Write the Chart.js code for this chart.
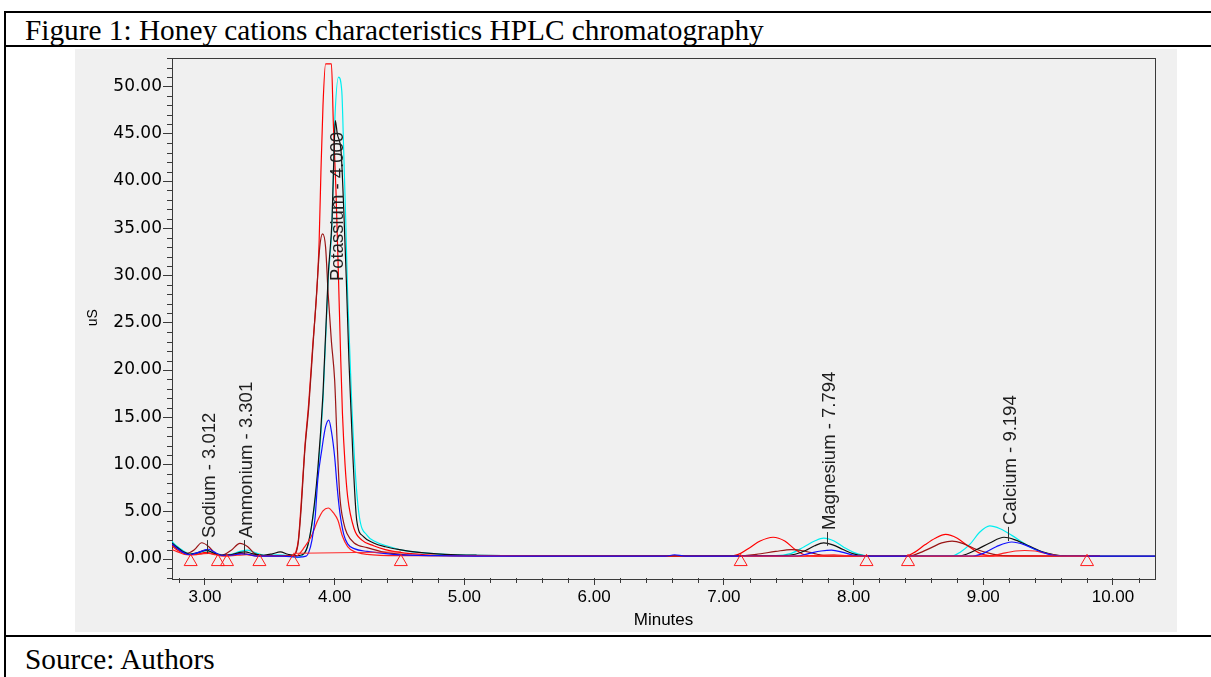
<!DOCTYPE html>
<html>
<head>
<meta charset="utf-8">
<title>Honey cations characteristics HPLC chromatography</title>
<script src="https://cdn.jsdelivr.net/npm/chart.js@4.4.0/dist/chart.umd.min.js"></script>
<style>
  html, body { margin: 0; padding: 0; background: #fff; }
  body { width: 1211px; height: 677px; position: relative; overflow: hidden; }
  .rule { position: absolute; background: #000; }
  .caption {
    position: absolute; left: 25px; white-space: nowrap; color: #000;
    font-family: 'Liberation Serif', 'Times New Roman', serif; font-size: 29.3px; line-height: 29px;
  }
  #panel { position: absolute; left: 75px; top: 49px; width: 1102px; height: 583px; background: #f0f0f0; }
</style>
</head>
<body>
<div class="rule" style="left:4px;top:11px;width:1207px;height:2px"></div>
<div class="rule" style="left:4px;top:11px;width:2px;height:666px"></div>
<div class="rule" style="left:4px;top:45px;width:1207px;height:2px"></div>
<div class="rule" style="left:4px;top:635px;width:1207px;height:2px"></div>
<div class="caption" style="top:16px">Figure 1: Honey cations characteristics HPLC chromatography</div>
<div class="caption" style="top:645px">Source: Authors</div>
<div id="panel"><canvas id="chrom" width="1102" height="583"></canvas></div>

<script>
// axis ticks
const xTickValues = [3, 4, 5, 6, 7, 8, 9, 10];
const yTickValues = [0, 5, 10, 15, 20, 25, 30, 35, 40, 45, 50];

// traces (minutes / uS)
const cyanTimes = [2.746, 2.78, 2.83, 2.88, 2.94, 3.01, 3.07, 3.13, 3.20, 3.27, 3.33, 3.39, 3.46, 3.56, 3.65, 3.71, 3.75, 3.79, 3.83, 3.87, 3.91, 3.95, 3.98, 4.00, 4.03, 4.055, 4.07, 4.085, 4.10, 4.13, 4.16, 4.19, 4.25, 4.32, 4.40, 4.50, 4.65, 4.85, 5.10, 5.50, 7.40, 7.52, 7.62, 7.70, 7.77, 7.85, 7.93, 8.00, 8.08, 8.20, 8.75, 8.82, 8.90, 8.97, 9.05, 9.13, 9.22, 9.32, 9.42, 9.52, 9.62, 9.75];
const cyanValues = [1.85, 1.4, 0.9, 0.55, 0.6, 0.85, 0.65, 0.45, 0.5, 0.8, 0.95, 0.65, 0.4, 0.45, 0.35, 0.15, 0.35, 1.3, 4.1, 9.0, 16.8, 29.5, 35.6, 46.0, 51.0, 49.5, 43.0, 36.0, 28.0, 17.0, 9.0, 4.5, 2.5, 1.8, 1.4, 1.0, 0.7, 0.5, 0.4, 0.35, 0.35, 0.6, 1.3, 1.9, 2.2, 1.9, 1.2, 0.7, 0.4, 0.3, 0.3, 0.7, 1.6, 2.8, 3.5, 3.2, 2.5, 1.6, 0.9, 0.5, 0.3, 0.3];

const blackTimes = [2.746, 2.78, 2.83, 2.88, 2.94, 3.01, 3.07, 3.13, 3.20, 3.27, 3.31, 3.37, 3.45, 3.52, 3.58, 3.64, 3.70, 3.75, 3.79, 3.83, 3.87, 3.91, 3.95, 3.98, 3.995, 4.005, 4.02, 4.05, 4.07, 4.09, 4.11, 4.14, 4.17, 4.22, 4.30, 4.39, 4.50, 4.65, 4.85, 5.10, 5.50, 7.45, 7.55, 7.63, 7.70, 7.77, 7.84, 7.92, 8.00, 8.08, 8.20, 8.80, 8.87, 8.95, 9.05, 9.16, 9.25, 9.35, 9.45, 9.55, 9.65, 10.324];
const blackValues = [1.7, 1.3, 0.8, 0.5, 0.65, 0.95, 0.6, 0.4, 0.45, 0.7, 0.75, 0.55, 0.4, 0.55, 0.75, 0.5, 0.35, 0.45, 1.3, 4.3, 9.5, 17.5, 30.0, 36.0, 43.0, 46.4, 45.0, 43.0, 37.0, 29.5, 21.0, 11.0, 4.1, 2.4, 1.7, 1.3, 1.0, 0.7, 0.5, 0.4, 0.35, 0.35, 0.5, 0.9, 1.4, 1.7, 1.5, 1.0, 0.55, 0.35, 0.3, 0.3, 0.5, 1.0, 1.7, 2.3, 2.0, 1.4, 0.8, 0.45, 0.3, 0.3];

const redTimes = [2.746, 2.78, 2.83, 2.88, 2.94, 3.01, 3.07, 3.13, 3.20, 3.28, 3.35, 3.45, 3.60, 3.68, 3.70, 3.72, 3.74, 3.77, 3.80, 3.83, 3.863, 3.88, 3.894, 3.91, 3.93, 3.975, 3.99, 4.01, 4.03, 4.045, 4.06, 4.08, 4.10, 4.15, 4.21, 4.30, 4.39, 4.50, 4.70, 5.00, 5.50, 7.05, 7.13, 7.20, 7.28, 7.38, 7.47, 7.55, 7.62, 7.70, 8.40, 8.47, 8.55, 8.63, 8.71, 8.80, 8.88, 8.96, 9.05, 9.90];
const redValues = [1.4, 1.0, 0.65, 0.45, 0.5, 0.7, 0.5, 0.4, 0.45, 0.6, 0.45, 0.35, 0.35, 0.4, 0.7, 2.0, 5.5, 11.8, 16.5, 22.4, 28.5, 33.5, 40.9, 48.0, 52.4, 52.4, 46.0, 39.0, 29.5, 22.0, 15.4, 10.0, 6.6, 3.2, 2.0, 1.4, 1.0, 0.7, 0.45, 0.35, 0.3, 0.3, 0.6, 1.2, 1.9, 2.3, 1.9, 1.0, 0.45, 0.3, 0.3, 0.7, 1.5, 2.2, 2.6, 2.2, 1.4, 0.7, 0.35, 0.3];

const darkRedTimes = [2.746, 2.80, 2.86, 2.92, 2.975, 3.03, 3.08, 3.13, 3.20, 3.27, 3.33, 3.38, 3.45, 3.60, 3.68, 3.70, 3.72, 3.74, 3.77, 3.80, 3.83, 3.86, 3.885, 3.907, 3.93, 3.95, 3.975, 4.00, 4.02, 4.04, 4.07, 4.095, 4.15, 4.25, 4.39, 4.55, 4.80, 7.10, 7.25, 7.40, 7.52, 7.62, 7.72, 7.82, 8.42, 8.50, 8.60, 8.68, 8.76, 8.85, 8.95, 9.05, 9.15, 9.30, 9.90];
const darkRedValues = [1.5, 1.0, 0.6, 1.0, 1.72, 1.3, 0.6, 0.4, 0.9, 1.66, 1.3, 0.6, 0.35, 0.35, 0.4, 0.6, 1.8, 5.0, 11.5, 16.0, 22.0, 28.0, 33.0, 34.4, 33.0, 28.0, 23.0, 18.9, 12.0, 6.6, 3.8, 2.7, 1.7, 1.2, 0.7, 0.45, 0.35, 0.3, 0.5, 0.8, 1.0, 0.85, 0.5, 0.3, 0.3, 0.6, 1.2, 1.7, 1.9, 1.6, 1.0, 0.6, 0.35, 0.3, 0.3];

const blueTimes = [2.746, 2.78, 2.83, 2.88, 2.95, 3.01, 3.03, 3.07, 3.13, 3.20, 3.28, 3.33, 3.40, 3.60, 3.72, 3.78, 3.80, 3.825, 3.85, 3.87, 3.90, 3.93, 3.955, 3.975, 4.00, 4.02, 4.04, 4.07, 4.10, 4.15, 4.25, 4.45, 4.80, 5.20, 6.55, 6.62, 6.70, 7.56, 7.66, 7.75, 7.83, 7.92, 8.00, 8.08, 8.92, 9.00, 9.10, 9.22, 9.32, 9.42, 9.52, 9.61, 10.324];
const blueValues = [1.6, 1.2, 0.7, 0.45, 0.7, 1.0, 1.03, 0.75, 0.4, 0.4, 0.55, 0.5, 0.3, 0.3, 0.2, 0.3, 0.7, 2.0, 4.5, 8.4, 11.5, 14.0, 14.7, 13.5, 10.8, 7.5, 4.9, 2.6, 1.6, 1.1, 0.8, 0.5, 0.35, 0.3, 0.3, 0.45, 0.3, 0.3, 0.6, 0.85, 0.95, 0.7, 0.4, 0.3, 0.3, 0.6, 1.3, 1.8, 1.5, 0.9, 0.45, 0.3, 0.3];

const smallRedTimes = [2.746, 2.80, 2.86, 2.92, 2.98, 3.03, 3.08, 3.14, 3.25, 3.32, 3.40, 3.70, 3.77, 3.82, 3.87, 3.91, 3.95, 3.99, 4.025, 4.06, 4.10, 4.15, 4.25, 4.50, 7.60, 7.75, 7.85, 7.95, 8.10, 9.05, 9.15, 9.25, 9.32, 9.40, 9.48, 9.56, 9.65, 9.90];
const smallRedValues = [1.0, 0.7, 0.45, 0.45, 0.55, 0.6, 0.45, 0.3, 0.4, 0.45, 0.3, 0.3, 1.3, 2.4, 4.1, 5.1, 5.4, 4.9, 4.1, 2.4, 1.3, 0.8, 0.5, 0.35, 0.3, 0.4, 0.45, 0.35, 0.3, 0.3, 0.6, 0.85, 0.9, 0.85, 0.6, 0.4, 0.3, 0.3];

// integration baselines and peak start/end markers
const baseTimes = [3.68, 4.51, 4.60, 7.13, 8.10, 8.20, 8.42, 9.80];
const baseValues = [0.6, 0.75, null, 0.3, 0.3, null, 0.3, 0.3];
const markerTimes = [2.89, 3.10, 3.17, 3.42, 3.68, 4.51, 7.13, 8.10, 8.42, 9.80];
const markerValues = [-0.3, -0.3, -0.3, -0.3, -0.3, -0.3, -0.3, -0.3, -0.3, -0.3];

// peak annotations
const peakNames = ['Sodium - 3.012', 'Ammonium - 3.301', 'Potassium - 4.000', 'Magnesium - 7.794', 'Calcium - 9.194'];
const peakTimes = [3.012, 3.301, 4.000, 7.794, 9.194];
const peakLabelBase = [2.0, 2.0, 29.2, 2.85, 3.4];
const peakTickEnd = [0.6, 0.5, 29.2, 1.4, 1.9];

function trace(times, values, color) {
    return {
        data: times.map((t, i) => ({ x: t, y: values[i] })),
        borderColor: color,
        borderWidth: 1.2,
        pointRadius: 0,
        fill: false,
        cubicInterpolationMode: 'monotone'
    };
}

const chromDecor = {
    id: 'chromDecor',
    beforeDatasetsDraw(chart) {
        const { ctx, chartArea: a, scales: { x, y } } = chart;
        ctx.save();
        ctx.strokeStyle = '#3a3a3a';
        ctx.lineWidth = 1;
        ctx.strokeRect(Math.round(a.left) + 0.5, Math.round(a.top) + 0.5,
            Math.round(a.right - a.left), Math.round(a.bottom - a.top));
        // minor ticks
        ctx.beginPath();
        for (let v = Math.ceil(y.min); v <= y.max; v++) {
            if (v % 5 === 0) continue;
            const py = Math.round(y.getPixelForValue(v)) + 0.5;
            ctx.moveTo(a.left - 5, py);
            ctx.lineTo(a.left, py);
        }
        for (let i = Math.ceil(x.min * 5); i <= Math.floor(x.max * 5); i++) {
            if (i % 5 === 0) continue;
            const px = Math.round(x.getPixelForValue(i / 5)) + 0.5;
            ctx.moveTo(px, a.bottom);
            ctx.lineTo(px, a.bottom + 5);
        }
        ctx.stroke();
        ctx.restore();
    },
    afterDatasetsDraw(chart) {
        const { ctx, scales: { x, y } } = chart;
        ctx.save();
        ctx.fillStyle = '#1e1e1e';
        ctx.strokeStyle = '#333';
        ctx.lineWidth = 1;
        ctx.font = '18.5px "Liberation Sans", Arial, sans-serif';
        peakNames.forEach((name, i) => {
            const px = Math.round(x.getPixelForValue(peakTimes[i])) + 0.5;
            const top = y.getPixelForValue(peakLabelBase[i]);
            const bottom = y.getPixelForValue(peakTickEnd[i]);
            ctx.beginPath();
            ctx.moveTo(px, top);
            ctx.lineTo(px, bottom);
            ctx.stroke();
            ctx.save();
            ctx.translate(px + 2, top - 2);
            ctx.rotate(-Math.PI / 2);
            ctx.textAlign = 'left';
            ctx.textBaseline = 'middle';
            ctx.fillText(name, 0, 0);
            ctx.restore();
        });
        ctx.restore();
    }
};

new Chart(document.getElementById('chrom'), {
    type: 'line',
    data: {
        datasets: [
            {
                data: markerTimes.map((t, i) => ({ x: t, y: markerValues[i] })),
                showLine: false,
                pointStyle: 'triangle',
                pointRadius: 7.5,
                pointBorderWidth: 1,
                pointBorderColor: '#ff1a1a',
                pointBackgroundColor: 'rgba(0,0,0,0)',
                clip: false
            },
            {
                data: baseTimes.map((t, i) => ({ x: t, y: baseValues[i] })),
                borderColor: '#ff2a2a',
                borderWidth: 1,
                pointRadius: 0,
                spanGaps: false
            },
            trace(blueTimes, blueValues, '#1010ff'),
            trace(smallRedTimes, smallRedValues, '#ff2020'),
            trace(blackTimes, blackValues, '#101010'),
            trace(darkRedTimes, darkRedValues, '#9a1515'),
            trace(redTimes, redValues, '#ff0000'),
            trace(cyanTimes, cyanValues, '#00eef0')
        ]
    },
    options: {
        responsive: false,
        animation: false,
        events: [],
        layout: { padding: { top: 8, right: 22, bottom: 0, left: 0 } },
        plugins: { legend: { display: false }, tooltip: { enabled: false } },
        scales: {
            x: {
                type: 'linear',
                min: 2.746,
                max: 10.324,
                afterBuildTicks: s => { s.ticks = xTickValues.map(v => ({ value: v })); },
                afterFit: s => { s.height = 54; s.paddingLeft = 0; s.paddingRight = 0; },
                ticks: {
                    callback: v => Number(v).toFixed(2),
                    font: { family: 'Liberation Sans', size: 17 },
                    color: '#000',
                    padding: 2,
                    maxRotation: 0,
                    autoSkip: false
                },
                grid: { drawOnChartArea: false, tickLength: 7, tickColor: '#3a3a3a', color: '#3a3a3a' },
                border: { display: false },
                title: {
                    display: true, text: 'Minutes', color: '#000',
                    font: { family: 'Liberation Sans', size: 17 },
                    padding: { top: 0, bottom: 1 }
                }
            },
            y: {
                type: 'linear',
                min: -2.01,
                max: 53.07,
                afterBuildTicks: s => { s.ticks = yTickValues.map(v => ({ value: v })); },
                afterFit: s => { s.width = 97; s.paddingTop = 0; s.paddingBottom = 0; },
                ticks: {
                    callback: v => Number(v).toFixed(2),
                    font: { family: 'DejaVu Sans', size: 17 },
                    color: '#000',
                    padding: 1
                },
                grid: { drawOnChartArea: false, tickLength: 9, tickColor: '#3a3a3a', color: '#3a3a3a' },
                border: { display: false },
                title: {
                    display: true, text: 'uS', color: '#000',
                    font: { family: 'Liberation Sans', size: 14 },
                    padding: { top: 10, bottom: 0 }
                }
            }
        }
    },
    plugins: [chromDecor]
});
</script>
</body>
</html>
